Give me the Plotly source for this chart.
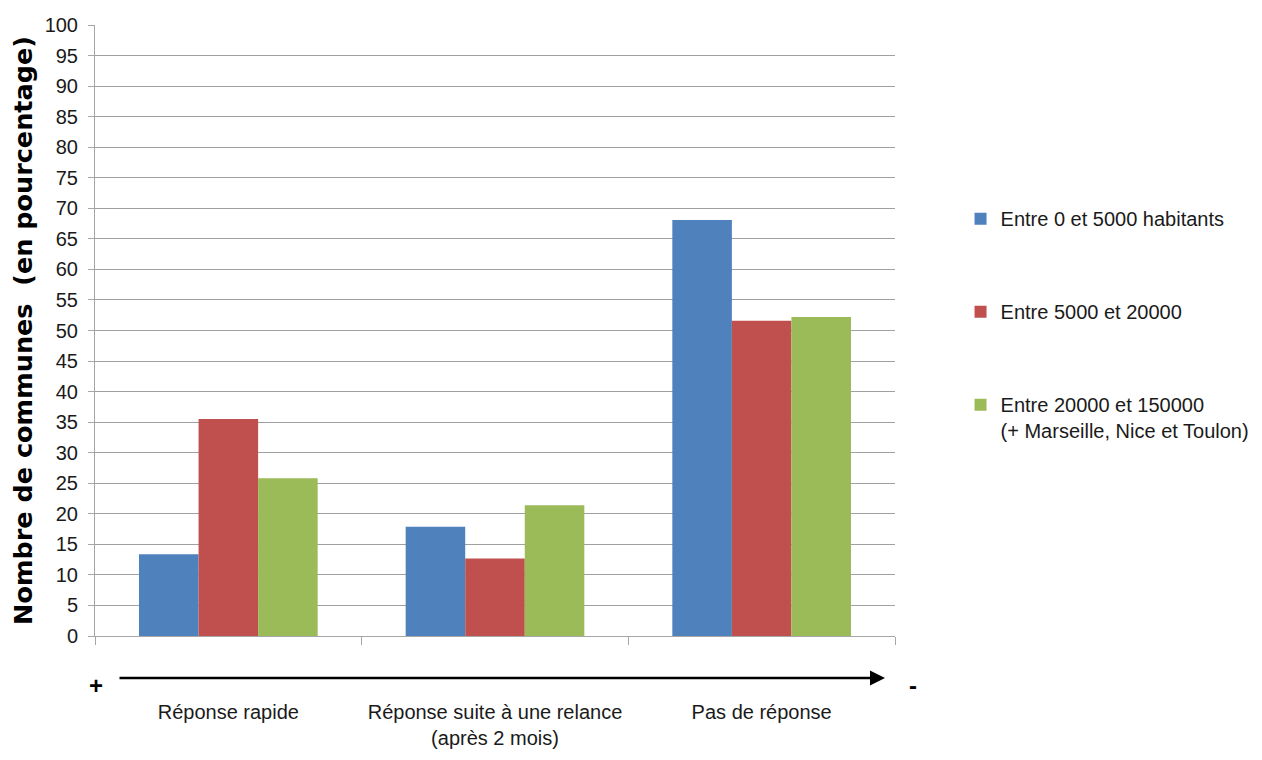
import plotly.graph_objects as go

categories = ["Réponse rapide", "Réponse suite à une relance<br>(après 2 mois)", "Pas de réponse"]
series_names = ["Entre 0 et 5000 habitants", "Entre 5000 et 20000",
                "Entre 20000 et 150000<br>(+ Marseille, Nice et Toulon)"]
small = [13.4, 17.9, 68.1]
medium = [35.5, 12.7, 51.6]
large = [25.8, 21.4, 52.2]
colors = ["#4F81BD", "#C0504D", "#9BBB59"]
y_ticks = list(range(0, 101, 5))

FONT = "Liberation Sans, Arial, sans-serif"

fig = go.Figure()
for i, (name, vals) in enumerate(zip(series_names, [small, medium, large])):
    fig.add_trace(go.Bar(x=categories, y=vals, name=name, marker_color=colors[i],
                         marker_line_width=0, legendgroup=f"g{i}"))

fig.update_layout(
    width=1254, height=752,
    margin=dict(l=87, r=367, t=17, b=124, autoexpand=False),
    paper_bgcolor="white", plot_bgcolor="white",
    barmode="group", bargap=0.33, bargroupgap=0,
    font=dict(family=FONT, size=20, color="#1a1a1a"),
    legend=dict(xref="container", x=0.7596, y=0.715, xanchor="left", yanchor="top",
                font=dict(family=FONT, size=20, color="#1a1a1a"),
                tracegroupgap=64, itemwidth=30, traceorder="grouped",
                valign="top"),
    showlegend=True,
)
fig.update_yaxes(range=[0, 100], tickvals=y_ticks, showgrid=True, gridcolor="#A0A0A0",
                 gridwidth=1, showline=True, linecolor="#A6A6A6", ticks="outside",
                 ticklen=6, tickcolor="#A6A6A6", tickfont=dict(size=20, color="#1a1a1a"),
                 ticklabelstandoff=6, automargin=False,
                 title=dict(text="<b>Nombre de communes  (en pourcentage)</b>",
                            font=dict(family="DejaVu Sans, sans-serif", size=25.5, color="#000"),
                            standoff=8),
                 zeroline=False)
fig.update_xaxes(showline=True, linecolor="#A6A6A6", ticks="outside", ticklen=8,
                 tickcolor="#A6A6A6", tickson="boundaries", showgrid=False,
                 tickangle=0, automargin=False,
                 tickfont=dict(size=20, color="#1a1a1a"), ticklabelstandoff=58)

# direction arrow below the axis
fig.add_annotation(xref="paper", yref="paper", x=0.9875, y=-0.0687, ax=-767, ay=0,
                   text="", showarrow=True, arrowhead=2, arrowsize=1.2, arrowwidth=2.5,
                   arrowcolor="black")
fig.add_annotation(xref="paper", yref="paper", x=0.001, y=-0.0818, text="<b>+</b>",
                   xanchor="center", yanchor="middle",
                   showarrow=False, font=dict(size=24, color="black"))
fig.add_annotation(xref="paper", yref="paper", x=1.0225, y=-0.0818, text="<b>-</b>",
                   xanchor="center", yanchor="middle",
                   showarrow=False, font=dict(size=24, color="black"))

fig.write_html("out.html")
